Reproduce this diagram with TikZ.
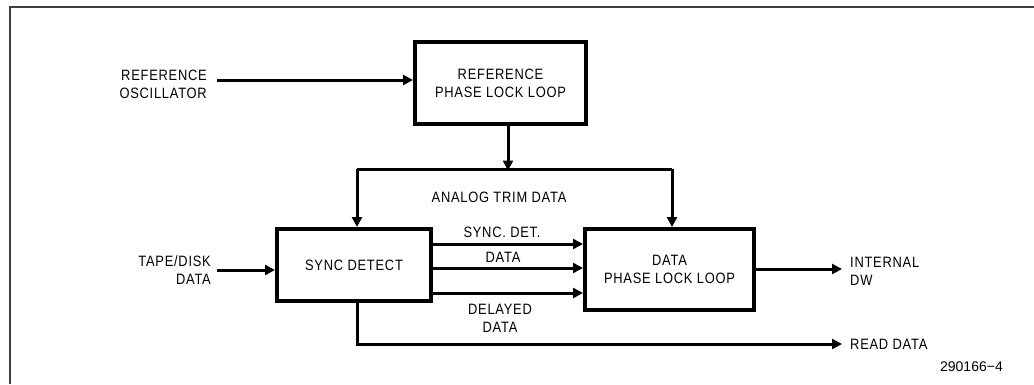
\documentclass[tikz,border=0pt]{standalone}
\usepackage{fontspec}
\setmainfont{Liberation Sans}
\newfontfamily\lblfont[FakeStretch=0.86,LetterSpace=5]{Liberation Sans}
\usetikzlibrary{arrows.meta}
\begin{document}
\begin{tikzpicture}[x=1pt,y=-1pt,
  lbl/.style={inner sep=0pt, font=\lblfont\fontsize{15}{18}\selectfont},
  blk/.style={draw, line width=4pt, inner sep=0pt, font=\lblfont\fontsize{15}{18}\selectfont, align=center},
  wire/.style={line width=3pt},
  arr/.style={wire, -{Triangle[length=10pt,width=10pt]}},
  frame/.style={draw=black!75, line width=1.5pt}]
\useasboundingbox (0,0) rectangle (1034,384);
\draw[frame] (10,384) -- (10,7) -- (1034,7);

% blocks
\node[blk, minimum width=171pt, minimum height=82pt] (refpll) at (500.5,83) {REFERENCE\\PHASE LOCK LOOP};
\node[blk, minimum width=154pt, minimum height=72pt] (sync) at (354,265) {SYNC DETECT};
\node[blk, minimum width=169pt, minimum height=81pt] (dpll) at (669.5,269.5) {DATA\\PHASE LOCK LOOP};

% labels
\node[lbl, align=right, anchor=east] (refosc) at (207,84) {REFERENCE\\OSCILLATOR};
\node[lbl, align=right, anchor=east] (tape) at (211,270) {TAPE/DISK\\DATA};
\node[lbl] (trim) at (499,197.5) {ANALOG TRIM DATA};
\node[lbl] (sdet) at (502,232) {SYNC. DET.};
\node[lbl] (dat) at (503,257) {DATA};
\node[lbl, align=center] (dly) at (500,318.5) {DELAYED\\DATA};
\node[lbl, align=left, anchor=west] (intdw) at (850,271) {INTERNAL\\DW};
\node[lbl, anchor=west] (rd) at (850,344) {READ DATA};
\node[inner sep=0pt, anchor=east, font=\fontsize{14}{16}\selectfont] (fig) at (1003,367) {290166−4};

% coordinates
\coordinate (ro) at (217,80);
\coordinate (td) at (217,270);
\coordinate (tl) at (357,169);
\coordinate (tr) at (672,169);
\coordinate (dn) at (508,169);
\coordinate (o1) at (433,244);
\coordinate (o2) at (433,268);
\coordinate (o3) at (433,293);
\coordinate (dw) at (842,269);
\coordinate (rdc) at (357,344);
\coordinate (rde) at (842,344);

% connectors
\draw[arr] (ro) -- (refpll.west |- ro);
\draw[arr] (refpll.south -| dn) -- ([yshift=-1.5pt]dn);
\draw[wire] (tl) -- (tr);
\draw[arr] (tl) -- (sync.north -| tl);
\draw[arr] (tr) -- (dpll.north -| tr);
\draw[arr] (td) -- (sync.west |- td);
\draw[arr] (sync.east |- o1) -- (dpll.west |- o1);
\draw[arr] (sync.east |- o2) -- (dpll.west |- o2);
\draw[arr] (sync.east |- o3) -- (dpll.west |- o3);
\draw[arr] (dpll.east |- dw) -- (dw);
\draw[arr] (sync.south -| rdc) -- (rdc) -- (rde);
\end{tikzpicture}
\end{document}
